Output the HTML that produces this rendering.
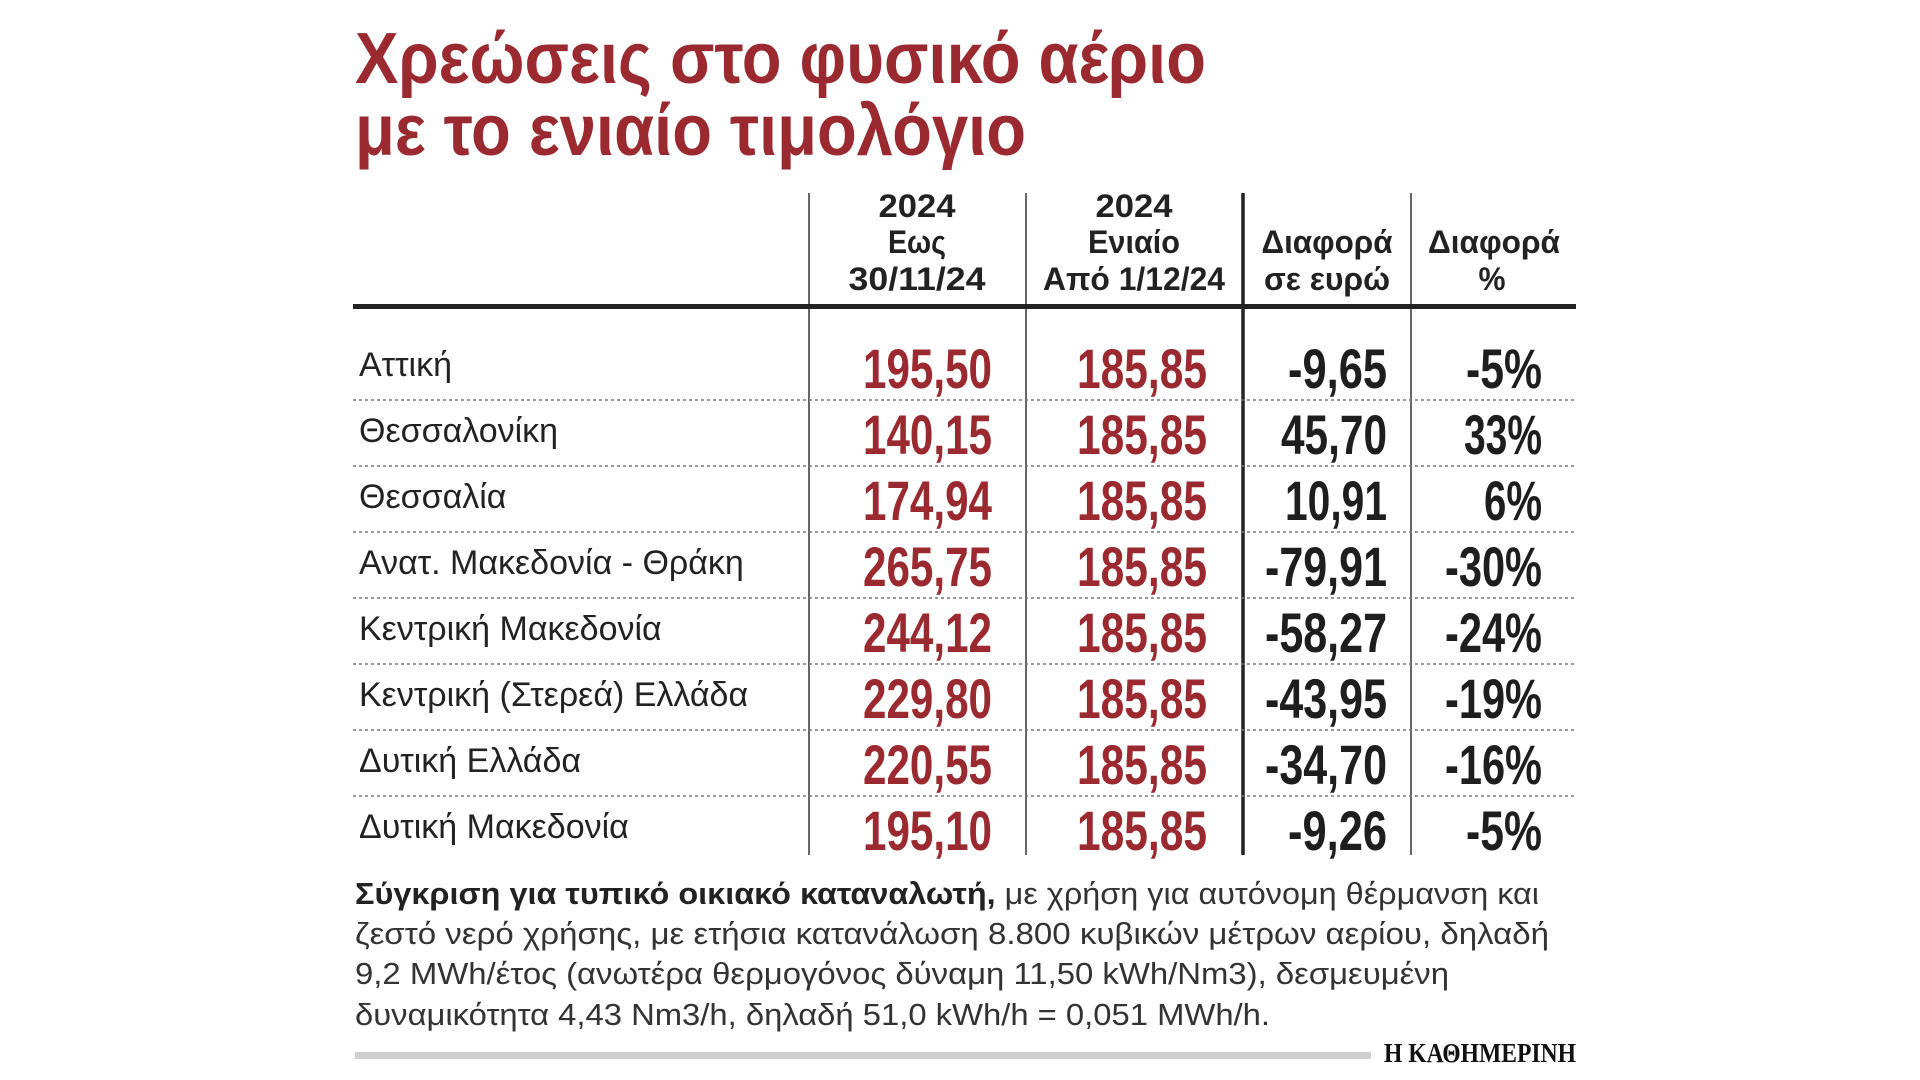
<!DOCTYPE html>
<html><head><meta charset="utf-8"><style>
html,body{margin:0;padding:0;background:#fff;width:1920px;height:1080px;overflow:hidden}
svg{display:block}
.t{font-family:"Liberation Sans",sans-serif;font-weight:bold;fill:#9b2a30}
.h{font-family:"Liberation Sans",sans-serif;font-weight:bold;font-size:32px;fill:#222;text-anchor:middle}
.r{font-family:"Liberation Sans",sans-serif;font-size:34px;fill:#222}
.n{font-family:"Liberation Sans",sans-serif;font-weight:bold;font-size:56px;text-anchor:end}
.red{fill:#9b2a30}.blk{fill:#1e1e1e}
.f{font-family:"Liberation Sans",sans-serif;font-size:31px;fill:#333}
</style></head><body>
<svg width="1920" height="1080" viewBox="0 0 1920 1080" xmlns="http://www.w3.org/2000/svg">
<text class="t" x="355" y="83" font-size="72" textLength="851" lengthAdjust="spacingAndGlyphs">Χρεώσεις στο φυσικό αέριο</text>
<text class="t" x="355" y="155" font-size="72" textLength="671" lengthAdjust="spacingAndGlyphs">με το ενιαίο τιμολόγιο</text>

<g stroke="#333" stroke-width="1.5">
<line x1="809" y1="193" x2="809" y2="855"/>
<line x1="1026" y1="193" x2="1026" y2="855"/>
<line x1="1411" y1="193" x2="1411" y2="855"/>
</g>
<line x1="1243" y1="193" x2="1243" y2="855" stroke="#222" stroke-width="3.5"/>
<rect x="353" y="304" width="1223" height="5" fill="#222"/>

<g lengthAdjust="spacingAndGlyphs">
<text class="h" x="917" y="217" textLength="77" lengthAdjust="spacingAndGlyphs">2024</text>
<text class="h" x="917" y="253" textLength="58" lengthAdjust="spacingAndGlyphs">Εως</text>
<text class="h" x="917" y="290" textLength="137" lengthAdjust="spacingAndGlyphs">30/11/24</text>
<text class="h" x="1134" y="217" textLength="77" lengthAdjust="spacingAndGlyphs">2024</text>
<text class="h" x="1134" y="253" textLength="92" lengthAdjust="spacingAndGlyphs">Ενιαίο</text>
<text class="h" x="1134" y="290" textLength="182" lengthAdjust="spacingAndGlyphs">Από 1/12/24</text>
<text class="h" x="1327" y="253" textLength="131" lengthAdjust="spacingAndGlyphs">Διαφορά</text>
<text class="h" x="1327" y="290" textLength="126" lengthAdjust="spacingAndGlyphs">σε ευρώ</text>
<text class="h" x="1494" y="253" textLength="132" lengthAdjust="spacingAndGlyphs">Διαφορά</text>
<text class="h" x="1492" y="290" textLength="27" lengthAdjust="spacingAndGlyphs">%</text>
</g>

<g stroke="#777" stroke-width="1.5" stroke-dasharray="3,3">
<line x1="353" y1="400" x2="1576" y2="400"/>
<line x1="353" y1="466" x2="1576" y2="466"/>
<line x1="353" y1="532" x2="1576" y2="532"/>
<line x1="353" y1="598" x2="1576" y2="598"/>
<line x1="353" y1="664" x2="1576" y2="664"/>
<line x1="353" y1="730" x2="1576" y2="730"/>
<line x1="353" y1="796" x2="1576" y2="796"/>
</g>

<g>
<text class="r" x="359" y="376">Αττική</text>
<text class="r" x="359" y="442">Θεσσαλονίκη</text>
<text class="r" x="359" y="508">Θεσσαλία</text>
<text class="r" x="359" y="574">Ανατ. Μακεδονία - Θράκη</text>
<text class="r" x="359" y="640">Κεντρική Μακεδονία</text>
<text class="r" x="359" y="706">Κεντρική (Στερεά) Ελλάδα</text>
<text class="r" x="359" y="772">Δυτική Ελλάδα</text>
<text class="r" x="359" y="838">Δυτική Μακεδονία</text>
</g>

<text class="n red" x="992" y="388" textLength="129" lengthAdjust="spacingAndGlyphs">195,50</text>
<text class="n red" x="992" y="454" textLength="129" lengthAdjust="spacingAndGlyphs">140,15</text>
<text class="n red" x="992" y="520" textLength="129" lengthAdjust="spacingAndGlyphs">174,94</text>
<text class="n red" x="992" y="586" textLength="129" lengthAdjust="spacingAndGlyphs">265,75</text>
<text class="n red" x="992" y="652" textLength="129" lengthAdjust="spacingAndGlyphs">244,12</text>
<text class="n red" x="992" y="718" textLength="129" lengthAdjust="spacingAndGlyphs">229,80</text>
<text class="n red" x="992" y="784" textLength="129" lengthAdjust="spacingAndGlyphs">220,55</text>
<text class="n red" x="992" y="850" textLength="129" lengthAdjust="spacingAndGlyphs">195,10</text>
<text class="n red" x="1207" y="388" textLength="130" lengthAdjust="spacingAndGlyphs">185,85</text>
<text class="n red" x="1207" y="454" textLength="130" lengthAdjust="spacingAndGlyphs">185,85</text>
<text class="n red" x="1207" y="520" textLength="130" lengthAdjust="spacingAndGlyphs">185,85</text>
<text class="n red" x="1207" y="586" textLength="130" lengthAdjust="spacingAndGlyphs">185,85</text>
<text class="n red" x="1207" y="652" textLength="130" lengthAdjust="spacingAndGlyphs">185,85</text>
<text class="n red" x="1207" y="718" textLength="130" lengthAdjust="spacingAndGlyphs">185,85</text>
<text class="n red" x="1207" y="784" textLength="130" lengthAdjust="spacingAndGlyphs">185,85</text>
<text class="n red" x="1207" y="850" textLength="130" lengthAdjust="spacingAndGlyphs">185,85</text>

<text class="n blk" x="1387" y="388" textLength="99" lengthAdjust="spacingAndGlyphs">-9,65</text>
<text class="n blk" x="1387" y="454" textLength="106" lengthAdjust="spacingAndGlyphs">45,70</text>
<text class="n blk" x="1387" y="520" textLength="102" lengthAdjust="spacingAndGlyphs">10,91</text>
<text class="n blk" x="1387" y="586" textLength="122" lengthAdjust="spacingAndGlyphs">-79,91</text>
<text class="n blk" x="1387" y="652" textLength="122" lengthAdjust="spacingAndGlyphs">-58,27</text>
<text class="n blk" x="1387" y="718" textLength="122" lengthAdjust="spacingAndGlyphs">-43,95</text>
<text class="n blk" x="1387" y="784" textLength="122" lengthAdjust="spacingAndGlyphs">-34,70</text>
<text class="n blk" x="1387" y="850" textLength="99" lengthAdjust="spacingAndGlyphs">-9,26</text>
<text class="n blk" x="1542" y="388" textLength="76" lengthAdjust="spacingAndGlyphs">-5%</text>
<text class="n blk" x="1542" y="454" textLength="78" lengthAdjust="spacingAndGlyphs">33%</text>
<text class="n blk" x="1542" y="520" textLength="58" lengthAdjust="spacingAndGlyphs">6%</text>
<text class="n blk" x="1542" y="586" textLength="97" lengthAdjust="spacingAndGlyphs">-30%</text>
<text class="n blk" x="1542" y="652" textLength="97" lengthAdjust="spacingAndGlyphs">-24%</text>
<text class="n blk" x="1542" y="718" textLength="97" lengthAdjust="spacingAndGlyphs">-19%</text>
<text class="n blk" x="1542" y="784" textLength="97" lengthAdjust="spacingAndGlyphs">-16%</text>
<text class="n blk" x="1542" y="850" textLength="76" lengthAdjust="spacingAndGlyphs">-5%</text>

<text class="f" x="355" y="904" textLength="1184" lengthAdjust="spacingAndGlyphs"><tspan font-weight="bold" fill="#222">Σύγκριση για τυπικό οικιακό καταναλωτή,</tspan> με χρήση για αυτόνομη θέρμανση και</text>
<text class="f" x="355" y="944" textLength="1194" lengthAdjust="spacingAndGlyphs">ζεστό νερό χρήσης, με ετήσια κατανάλωση 8.800 κυβικών μέτρων αερίου, δηλαδή</text>
<text class="f" x="355" y="984" textLength="1094" lengthAdjust="spacingAndGlyphs">9,2 MWh/έτος (ανωτέρα θερμογόνος δύναμη 11,50 kWh/Nm3), δεσμευμένη</text>
<text class="f" x="355" y="1025" textLength="915" lengthAdjust="spacingAndGlyphs">δυναμικότητα 4,43 Nm3/h, δηλαδή 51,0 kWh/h = 0,051 MWh/h.</text>

<rect x="355" y="1052" width="1016" height="7" fill="#cfcfcf"/>
<text x="1384" y="1062" font-family="Liberation Serif,serif" font-weight="bold" font-size="27" fill="#111" textLength="192" lengthAdjust="spacingAndGlyphs">Η ΚΑΘΗΜΕΡΙΝΗ</text>
</svg>
</body></html>
